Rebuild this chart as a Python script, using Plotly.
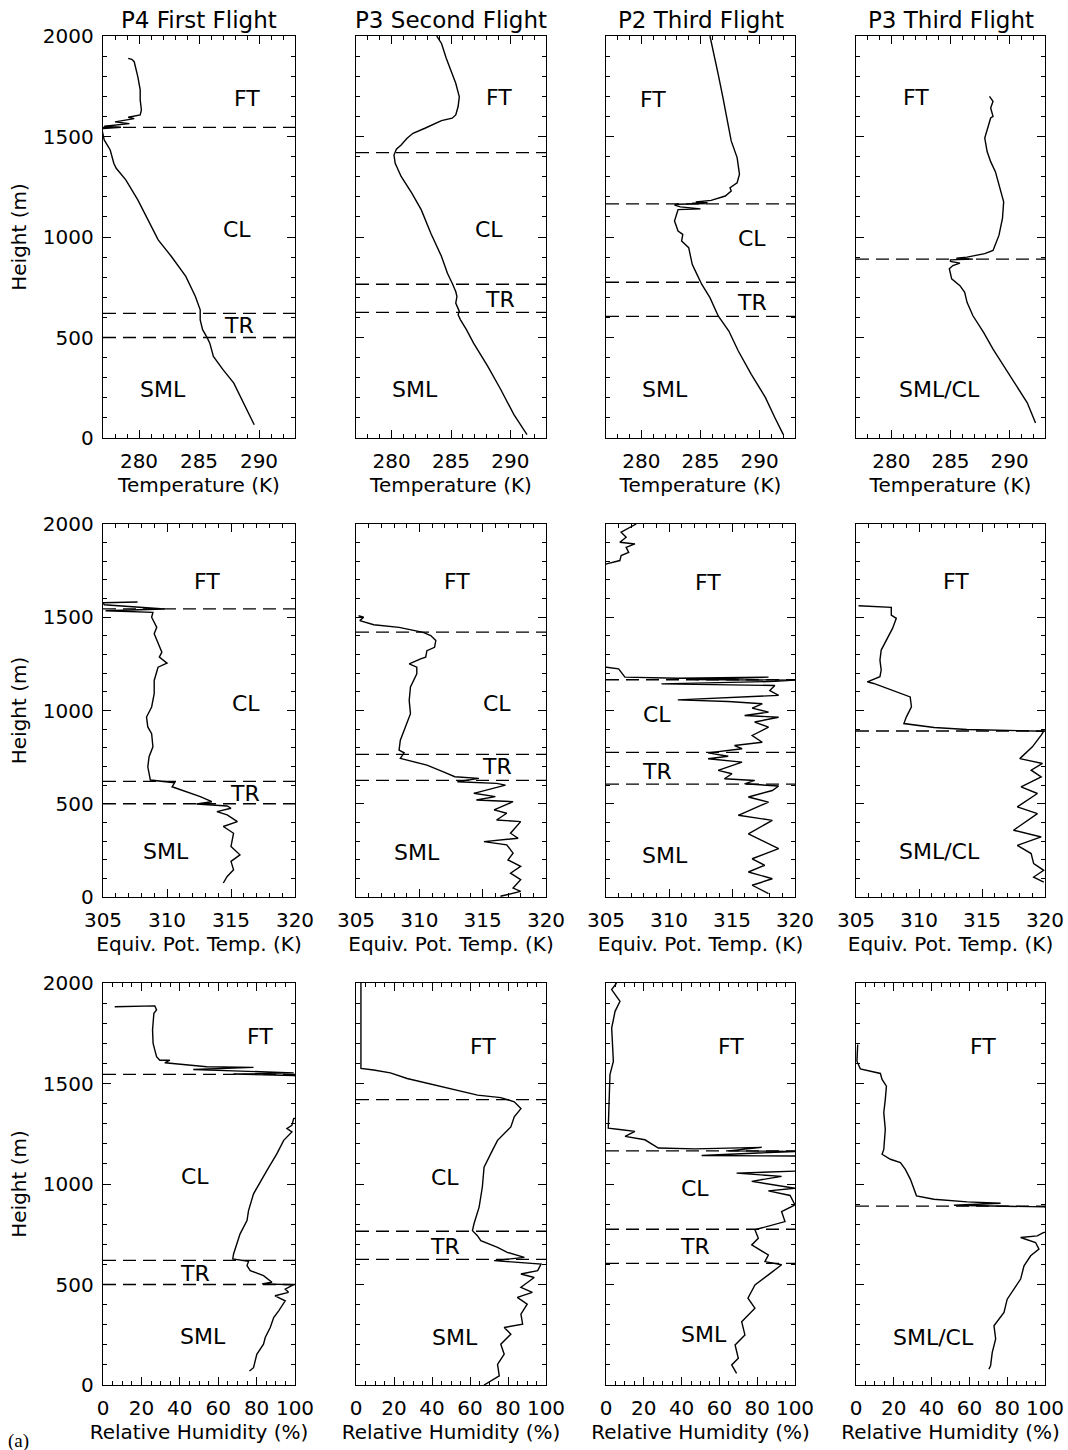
import plotly.graph_objects as go

# ---------------- text / categories ----------------
FLIGHTS = ["P4 First Flight", "P3 Second Flight", "P2 Third Flight", "P3 Third Flight"]
X_TITLES = ["Temperature (K)", "Equiv. Pot. Temp. (K)", "Relative Humidity (%)"]
Y_TITLE = "Height (m)"
LAYERS_FOUR = ["FT", "CL", "TR", "SML"]
LAYERS_TWO = ["FT", "SML/CL"]
PANEL_TAG = "(a)"

# layer boundary heights (m) per flight
bounds_p4_first = [1545, 620, 500]
bounds_p3_second = [1420, 765, 625]
bounds_p2_third = [1165, 775, 605]
bounds_p3_third = [890]

# ---------------- Temperature (K) ----------------
t_p4_first_z = [1889,1884,1872,1798,1732,1682,1632,1607,1596,1589,1573,1564,1551,1546,1539,1516,1483,1433,1367,1342,
                1284,1185,1052,986,903,804,704,638,588,539,497,472,406,340,273,174,66]
t_p4_first_v = [279.1,279.4,279.6,279.9,280.1,280.1,280.2,280.1,279.1,279.6,278.0,279.2,277.1,278.5,276.9,277.0,277.1,277.6,277.9,278.1,
                278.9,279.9,281.0,281.6,282.7,283.9,284.7,285.1,285.1,285.3,285.7,285.9,286.2,287.0,287.9,288.7,289.6]

t_p3_second_z = [2000,1963,1889,1831,1765,1698,1649,1607,1591,1579,1558,1541,1516,1491,1458,1437,1408,1367,1301,1218,
                 1135,1019,903,820,770,729,704,671,630,613,588,539,472,356,240,116,17]
t_p3_second_v = [283.8,284.2,284.6,285.0,285.4,285.7,285.6,285.4,285.1,284.2,283.5,282.8,281.8,281.3,280.8,280.4,280.2,280.3,280.8,281.7,
                 282.5,283.3,284.2,284.7,285.1,285.4,285.5,285.4,285.7,285.6,285.8,286.3,286.9,288.1,289.2,290.3,291.4]

t_p2_third_z = [2000,1925,1809,1693,1594,1478,1395,1312,1270,1245,1229,1204,1182,1174,1171,1168,1166,1163,1159,1150,
                1140,1136,1080,1030,1013,980,947,922,864,814,765,698,607,532,433,317,201,101,18]
t_p2_third_v = [285.8,286.1,286.5,286.9,287.2,287.6,288.1,288.3,288.1,287.5,287.6,287.1,285.9,284.6,285.6,284.3,285.5,283.0,282.8,283.3,
                285.0,283.1,282.8,283.1,283.5,283.4,284.0,284.1,284.3,284.7,285.1,285.8,286.5,287.4,288.2,289.3,290.5,291.3,292.0]

t_p3_third_z = [1700,1675,1642,1600,1592,1533,1492,1425,1375,1325,1242,1175,1092,1008,933,917,900,895,890,886,
                878,870,858,842,792,758,725,675,608,525,442,358,258,175,75]
t_p3_third_v = [288.3,288.6,288.4,288.6,288.4,288.1,287.9,288.1,288.4,288.8,289.2,289.5,289.4,289.1,288.6,287.9,286.4,285.5,286.9,285.0,
                285.0,285.8,285.2,284.9,285.1,285.8,286.2,286.4,286.9,287.8,288.6,289.5,290.6,291.5,292.2]

# ---------------- Equivalent potential temperature (K) ----------------
th_p4_first_z = [1582,1578,1567,1544,1535,1526,1500,1446,1411,1357,1313,1286,1254,1232,1161,1090,1019,965,912,876,
                 805,752,698,627,613,591,565,538,511,499,488,476,458,440,404,378,342,271,226,191,146,110,75]
th_p4_first_v = [307.7,305.0,305.1,309.8,305.2,308.9,308.8,309.2,309.0,309.3,309.6,309.4,310.0,309.3,309.0,309.0,308.8,308.4,308.5,308.8,
                 308.9,308.6,308.5,308.7,310.6,310.4,311.5,312.6,313.5,312.3,314.7,315.0,313.9,314.7,315.5,314.4,315.2,315.0,315.7,315.0,315.2,314.7,314.4]

th_p3_second_z = [1508,1500,1482,1460,1446,1432,1419,1402,1375,1339,1321,1286,1277,1250,1232,1197,1126,1054,983,912,
                  841,787,773,743,725,707,671,645,636,618,609,600,556,538,520,511,467,449,413,404,
                  342,315,297,280,235,199,164,128,93,48,30,4]
th_p3_second_v = [305.2,305.6,305.3,306.4,308.4,309.3,310.3,310.9,311.3,311.2,310.6,310.5,310.1,309.2,309.8,309.8,309.3,309.2,309.3,308.9,
                  308.5,308.4,308.8,308.5,309.5,310.6,311.9,312.8,314.7,313.0,316.1,316.8,314.3,316.0,314.5,317.4,315.9,316.9,316.1,318.0,
                  317.2,317.8,315.1,316.9,317.4,317.0,318.0,317.2,318.0,317.4,318.0,316.4]

th_p2_third_z = [2000,1982,1956,1929,1902,1893,1875,1848,1831,1804,1786,1770,1240,1232,1223,1206,1179,1173,1179,1166,
                 1163,1156,1143,1134,1107,1081,1057,1048,1036,1013,991,973,964,938,911,866,830,812,795,773,
                 755,741,723,679,661,634,625,607,595,571,536,509,438,411,339,259,205,170,134,98,63,18]
th_p2_third_v = [307.4,306.9,306.2,306.6,306.1,307.3,306.6,306.8,306.2,306.1,305.05,303.5,303.5,305.05,306.0,306.2,306.5,310.7,317.9,312.1,
                 320.0,318.4,309.4,318.4,318.0,318.7,310.7,314.7,317.4,316.6,317.9,316.0,318.7,316.8,317.9,316.6,317.4,315.2,315.8,313.1,
                 314.7,313.1,315.8,313.9,315.0,314.4,316.8,316.0,318.7,318.2,316.3,317.9,315.5,318.2,316.3,318.7,316.6,317.6,316.3,318.2,316.6,317.9]

th_p3_third_z = [1562,1553,1512,1494,1440,1378,1324,1270,1217,1181,1154,1145,1091,1073,1020,966,930,909,898,889,
                 868,805,742,716,680,644,590,555,483,447,358,322,277,233,179,143,107,80]
th_p3_third_v = [305.2,307.8,307.8,308.2,307.9,307.4,307.0,306.9,307.0,306.9,305.9,306.4,308.5,309.3,309.4,309.0,308.8,311.2,313.8,319.9,
                 319.7,319.0,318.0,319.8,318.9,319.7,318.1,319.4,317.8,319.4,317.5,319.7,317.8,318.9,319.1,319.9,319.1,319.9]

# ---------------- Relative humidity (%) ----------------
rh_p4_first_z = [1882,1886,1866,1849,1766,1700,1666,1633,1616,1616,1603,1591,1583,1580,1570,1563,1553,1547,1540,1530,
                 1340,1325,1292,1276,1259,1217,1151,1068,984,951,868,818,752,702,652,627,615,594,569,544,
                 511,503,499,477,461,444,419,369,336,286,236,203,153,86,70]
rh_p4_first_v = [6.1,27.0,27.9,26.5,25.8,26.1,27.0,27.9,29.6,34.8,32.2,43.6,54.0,78.4,47.0,67.9,99.3,67.9,99.3,105,
                 105,99.3,98.4,95.8,98.4,94.1,90.6,85.4,80.1,78.4,75.8,75.0,71.4,69.7,68.0,67.6,75.8,75.0,76.7,83.6,
                 88.0,82.8,99.3,94.9,96.6,89.6,94.9,91.5,88.9,87.1,84.5,83.6,80.1,78.4,76.3]

rh_p3_second_z = [2000,1575,1567,1553,1525,1492,1467,1442,1430,1409,1375,1334,1284,1251,1217,1167,1084,985,885,802,
                  768,743,718,685,660,635,619,602,569,552,535,486,461,436,402,353,303,286,253,203,153,103,45,0]
rh_p3_second_v = [2.6,2.6,9.3,18.1,26.9,41.0,53.3,64.0,76.2,83.3,86.8,83.3,81.5,78.0,74.5,71.8,67.4,66.5,64.8,62.1,
                  61.3,63.9,65.7,74.5,79.6,88.6,72.7,97.4,95.6,86.8,93.8,86.8,92.8,84.9,90.1,86.8,87.7,78.0,81.5,76.2,78.0,74.5,75.4,67.4]

rh_p2_third_z = [2000,1967,1909,1859,1776,1610,1544,1278,1270,1262,1237,1220,1179,1175,1182,1165,1162,1142,1139,1120,
                 1065,1054,1038,1013,979,966,943,896,863,813,772,730,697,647,614,598,548,498,432,382,315,249,199,133,100,58]
rh_p2_third_v = [5.6,3.0,7.4,4.8,3.0,3.9,2.1,1.2,8.3,15.3,10.1,20.6,27.7,47.1,82.4,64.7,100,50.6,100,103,
                 103,69.1,92.9,77.1,100,85.9,97.4,100,92.9,94.7,78.8,80.6,77.1,85.9,84.1,92.9,85.9,78.8,75.1,78.8,71.8,73.5,68.3,70.0,66.5,69.1]

rh_p3_third_z = [1694,1611,1573,1550,1520,1487,1421,1355,1272,1172,1148,1123,1106,1073,1023,974,941,924,911,904,
                 894,886,880,770,758,742,734,709,676,643,593,527,477,427,361,295,229,162,96,79]
rh_p3_third_v = [0.9,0.5,2.3,12.9,13.8,16.1,15.5,14.7,15.5,14.7,13.8,18.2,23.5,26.1,28.8,30.6,32.0,41.2,58.8,76.5,
                 51.8,99.5,105,105,99.1,95.9,87.1,95.0,96.8,92.4,88.9,87.1,83.6,80.0,78.3,73.0,73.9,72.1,71.2,70.3]

# ---------------- assemble (built from the lists above) ----------------
PROFILES = [
    [(t_p4_first_v, t_p4_first_z), (t_p3_second_v, t_p3_second_z), (t_p2_third_v, t_p2_third_z), (t_p3_third_v, t_p3_third_z)],
    [(th_p4_first_v, th_p4_first_z), (th_p3_second_v, th_p3_second_z), (th_p2_third_v, th_p2_third_z), (th_p3_third_v, th_p3_third_z)],
    [(rh_p4_first_v, rh_p4_first_z), (rh_p3_second_v, rh_p3_second_z), (rh_p2_third_v, rh_p2_third_z), (rh_p3_third_v, rh_p3_third_z)],
]
BOUNDS = [bounds_p4_first, bounds_p3_second, bounds_p2_third, bounds_p3_third]
LAYERS = [LAYERS_FOUR, LAYERS_FOUR, LAYERS_FOUR, LAYERS_TWO]

for row in PROFILES:
    for v, z in row:
        assert len(v) == len(z), (len(v), len(z))

# ---------------- layout / styling ----------------
W, H = 1068, 1450
FONT = "DejaVu Sans"
COL_PX = [(103, 295), (356, 546), (606, 795), (856, 1045)]
ROW_PX = [(36, 438), (524, 897), (983, 1385)]
X_AXES = [
    dict(range=[277, 293], tick0=280, dtick=5, mtick0=277, mdtick=1),
    dict(range=[305, 320], tick0=305, dtick=5, mtick0=305, mdtick=1),
    dict(range=[0, 100], tick0=0, dtick=20, mtick0=0, mdtick=5),
]
# label positions: (x fraction of panel width, height in m)
LABEL_POS = [
    [[(0.75, 1690), (0.70, 1035), (0.71, 560), (0.31, 240)],
     [(0.75, 1692), (0.70, 1035), (0.76, 690), (0.31, 239)],
     [(0.25, 1682), (0.77, 995), (0.77, 672), (0.31, 239)],
     [(0.32, 1692), (0.44, 239)]],
    [[(0.54, 1690), (0.745, 1035), (0.74, 557), (0.33, 243)],
     [(0.53, 1690), (0.74, 1035), (0.74, 698), (0.32, 237)],
     [(0.54, 1684), (0.27, 976), (0.27, 672), (0.31, 225)],
     [(0.53, 1690), (0.44, 243)]],
    [[(0.82, 1736), (0.48, 1036), (0.48, 557), (0.52, 239)],
     [(0.67, 1686), (0.47, 1030), (0.47, 688), (0.52, 234)],
     [(0.66, 1683), (0.47, 980), (0.47, 688), (0.52, 249)],
     [(0.67, 1686), (0.41, 234)]],
]

fig = go.Figure()
layout_axes = {}
shapes = []
annotations = []

for r in range(3):
    for c in range(4):
        i = r * 4 + c + 1
        xn = "x" if i == 1 else f"x{i}"
        yn = "y" if i == 1 else f"y{i}"
        xk = "xaxis" if i == 1 else f"xaxis{i}"
        yk = "yaxis" if i == 1 else f"yaxis{i}"
        x0, x1 = COL_PX[c]
        top, bot = ROW_PX[r]
        xa = X_AXES[r]
        v, z = PROFILES[r][c]
        fig.add_trace(go.Scatter(x=v, y=z, mode="lines", xaxis=xn, yaxis=yn,
                                 line=dict(color="black", width=1.4),
                                 showlegend=False, hoverinfo="skip"))
        common = dict(ticks="inside", ticklen=8, tickwidth=1, tickcolor="black",
                      mirror="allticks", showline=True, linecolor="black", linewidth=1.3,
                      showgrid=False, zeroline=False, tickmode="linear", automargin=False,
                      tickfont=dict(family=FONT, size=20, color="black"))
        layout_axes[xk] = dict(
            domain=[x0 / W, x1 / W], anchor=yn, range=xa["range"],
            tick0=xa["tick0"], dtick=xa["dtick"],
            minor=dict(tick0=xa["mtick0"], dtick=xa["mdtick"], ticks="inside", ticklen=4,
                       tickwidth=1, tickcolor="black", showgrid=False),
            title=dict(text=X_TITLES[r], font=dict(family=FONT, size=20, color="black"), standoff=4),
            ticklabelstandoff=5,
            **common)
        layout_axes[yk] = dict(
            domain=[1 - bot / H, 1 - top / H], anchor=xn, range=[0, 2000],
            tick0=0, dtick=500,
            minor=dict(tick0=0, dtick=100, ticks="inside", ticklen=4,
                       tickwidth=1, tickcolor="black", showgrid=False),
            showticklabels=(c == 0),
            title=dict(text=Y_TITLE if c == 0 else "", font=dict(family=FONT, size=20, color="black"), standoff=10),
            ticklabelstandoff=4,
            **common)
        for hb in BOUNDS[c]:
            shapes.append(dict(type="line", xref=f"{xn} domain", yref=yn, x0=0, x1=1, y0=hb, y1=hb,
                               line=dict(color="black", width=1.3, dash="13px,7px")))
        for name, (fx, hy) in zip(LAYERS[c], LABEL_POS[r][c]):
            annotations.append(dict(text=name, xref=f"{xn} domain", yref=yn, x=fx, y=hy,
                                    xanchor="center", yanchor="middle", showarrow=False,
                                    font=dict(family=FONT, size=22, color="black")))

for c in range(4):
    x0, x1 = COL_PX[c]
    annotations.append(dict(text=FLIGHTS[c], xref="paper", yref="paper",
                            x=(x0 + x1) / 2 / W, y=1 - 20 / H, xanchor="center", yanchor="middle",
                            showarrow=False, font=dict(family=FONT, size=23, color="black")))

annotations.append(dict(text=PANEL_TAG, xref="paper", yref="paper", x=6 / W, y=1 - 1441 / H,
                        xanchor="left", yanchor="middle", showarrow=False,
                        font=dict(family="Liberation Serif", size=19, color="black")))

fig.update_layout(template="none", width=W, height=H, autosize=False,
                  margin=dict(l=0, r=0, t=0, b=0, pad=0),
                  paper_bgcolor="white", plot_bgcolor="white",
                  shapes=shapes, annotations=annotations, **layout_axes)

fig.write_html("out.html", config={"displayModeBar": False, "staticPlot": True},
               post_script="document.body.style.margin='0';document.body.style.padding='0';"
                           "document.body.style.overflow='hidden';")
